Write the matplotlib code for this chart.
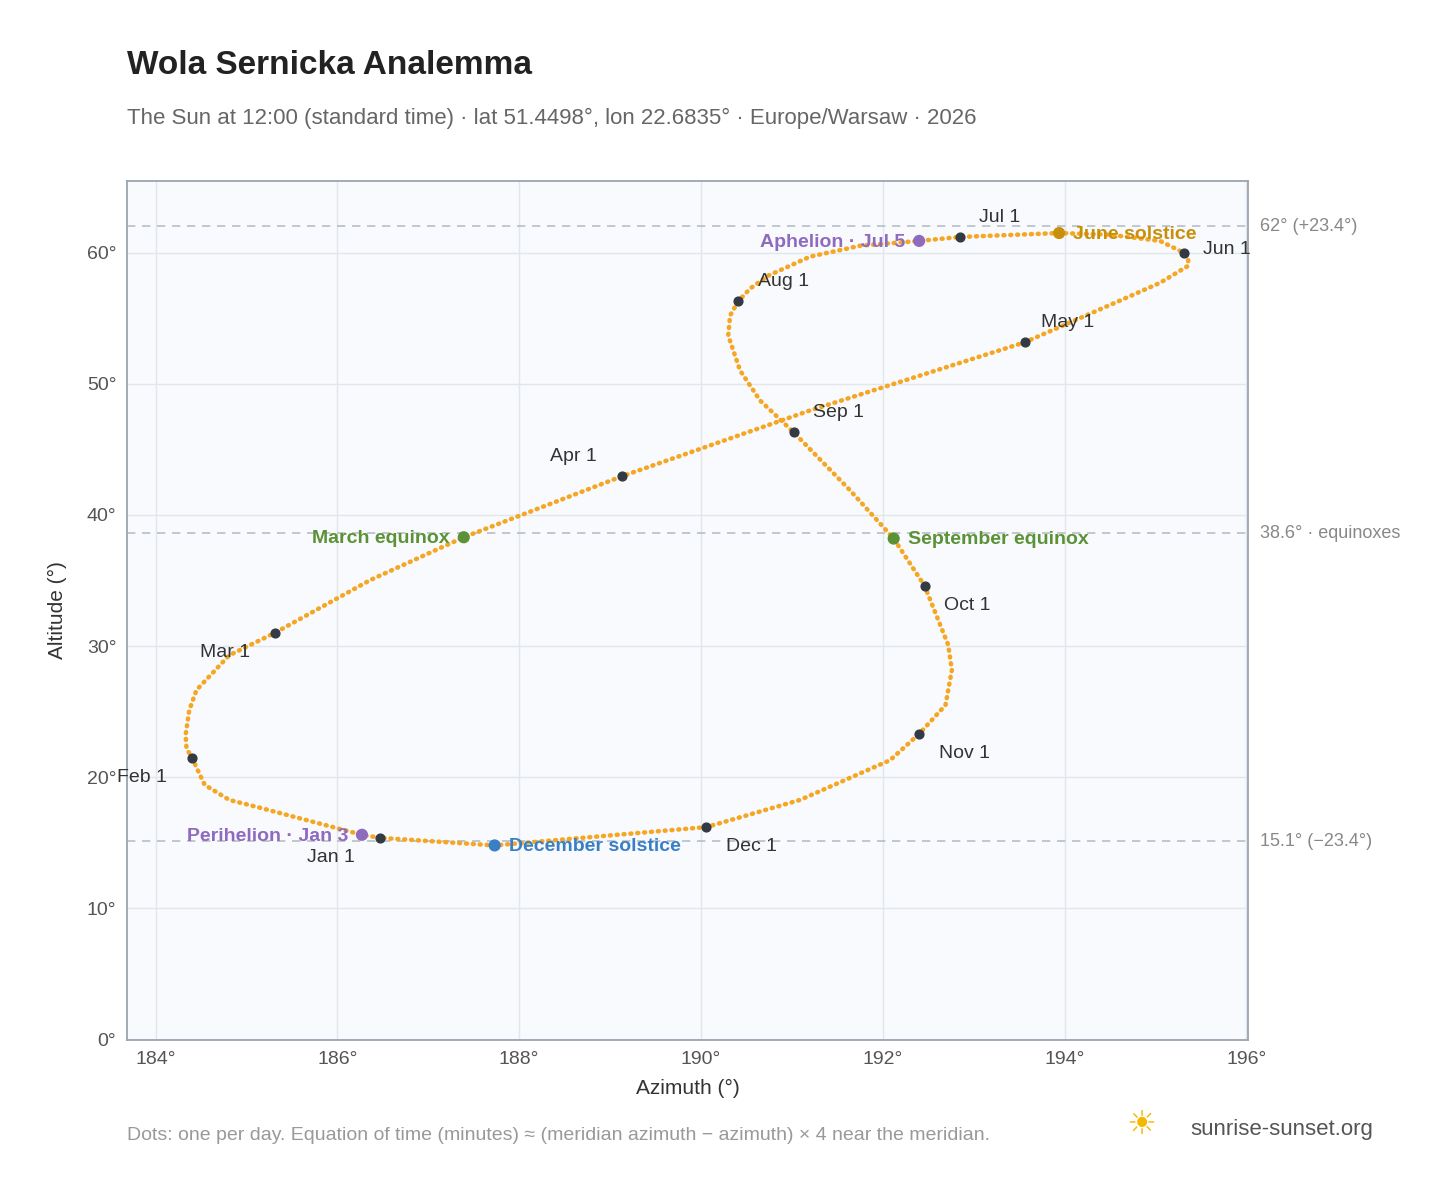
import matplotlib
matplotlib.use("Agg")
import matplotlib.pyplot as plt
plt.rcParams['font.family'] = ['Liberation Sans', 'DejaVu Sans']

# path samples (azimuth deg, altitude deg)
path_az = [186.47,186.27,185.15,184.81,184.54,184.40,184.34,184.33,184.37,184.45,184.81,185.31,186.36,187.39,189.13,191.20,193.56,194.61,195.05,195.36,195.36,195.31,195.05,194.50,193.94,192.85,192.40,191.75,191.20,190.74,190.54,190.41,190.32,190.30,190.43,190.65,191.02,191.64,192.12,192.46,192.72,192.76,192.69,192.40,192.08,191.09,190.06,187.73,186.47]
path_alt = [15.38,15.61,17.67,18.27,19.42,21.48,22.2,23.22,25.1,26.65,29.3,31.0,35.03,38.30,42.95,47.97,53.16,56.35,57.7,59.0,59.55,60.0,60.9,61.37,61.5,61.2,60.9,60.53,59.7,58.25,57.26,56.3,55.2,53.68,51.02,48.73,46.3,41.88,38.2,34.6,30.08,28.17,25.5,23.3,21.3,18.27,16.2,14.8,15.38]

months = ["Jan 1","Feb 1","Mar 1","Apr 1","May 1","Jun 1","Jul 1","Aug 1","Sep 1","Oct 1","Nov 1","Dec 1"]
month_az = [186.47,184.40,185.31,189.13,193.56,195.31,192.85,190.41,191.02,192.46,192.40,190.06]
month_alt = [15.38,21.48,31.0,42.95,53.16,60.0,61.2,56.3,46.3,34.6,23.3,16.2]
month_off = [(-18,-14),(-18,-14),(-18,-14),(-18,14),(12,14),(14,2),(14,14),(14,14),(14,14),(14,-14),(14,-14),(14,-14)]
month_ha = ["right","right","right","right","left","left","left","left","left","left","left","left"]

events = ["Perihelion · Jan 3","December solstice","March equinox","June solstice","Aphelion · Jul 5","September equinox"]
ev_az = [186.27,187.73,187.39,193.94,192.40,192.12]
ev_alt = [15.61,14.8,38.3,61.5,60.9,38.2]
ev_col = ["#8e6bbf","#3a7fc6","#5b9236","#c8900a","#8e6bbf","#5b9236"]
ev_ha = ["right","left","right","left","right","left"]

ref_alt = [62.0,38.6,15.1]
ref_lbl = ["62° (+23.4°)","38.6° · equinoxes","15.1° (−23.4°)"]

fig = plt.figure(figsize=(14.48,11.88), dpi=100)
ax = fig.add_axes([0.088,0.125,0.774,0.723])
ax.set_facecolor("#f8fafd")
ax.set_xlim(183.69,196.02)
ax.set_ylim(0,65.5)
ax.grid(color="#e3e7ed", lw=1)
ax.set_axisbelow(True)
for s in ax.spines.values():
    s.set_color("#9aa5b1"); s.set_linewidth(1.3)
ax.set_xticks(range(184,197,2))
ax.set_xticklabels([f"{v}°" for v in range(184,197,2)])
ax.set_yticks(range(0,61,10))
ax.set_yticklabels([f"{v}°" for v in range(0,61,10)])
ax.tick_params(colors="#555", labelsize=14, length=0, pad=8)
ax.set_xlabel("Azimuth (°)", fontsize=15, color="#333", labelpad=8)
ax.set_ylabel("Altitude (°)", fontsize=15, color="#333", labelpad=14)

for a, l in zip(ref_alt, ref_lbl):
    ax.axhline(a, color="#b8bec6", ls=(0,(5,4)), lw=1.2, zorder=1)
    ax.text(196.15, a, l, fontsize=13, color="#888", va="center", ha="left", clip_on=False)

ax.plot(path_az, path_alt, color="#f5a623", lw=3.3, ls=(0,(0.2,1.3)), dash_capstyle="round", zorder=2)

ax.scatter(month_az, month_alt, s=40, color="#333a44", zorder=4)
for n, x, y, o, h in zip(months, month_az, month_alt, month_off, month_ha):
    ax.annotate(n, (x, y), xytext=o, textcoords="offset points", fontsize=14, color="#333", ha=h, va="center")

ax.scatter(ev_az, ev_alt, s=60, color=ev_col, zorder=5)
for n, x, y, c, h in zip(events, ev_az, ev_alt, ev_col, ev_ha):
    ax.annotate(n, (x, y), xytext=(10 if h=="left" else -10, -1), textcoords="offset points",
                fontsize=14, color=c, ha=h, va="center", fontweight="bold")

fig.text(0.088, 0.938, "Wola Sernicka Analemma", fontsize=24, fontweight="bold", color="#222")
fig.text(0.088, 0.896, "The Sun at 12:00 (standard time) · lat 51.4498°, lon 22.6835° · Europe/Warsaw · 2026", fontsize=16, color="#666")
fig.text(0.088, 0.040, "Dots: one per day. Equation of time (minutes) ≈ (meridian azimuth − azimuth) × 4 near the meridian.", fontsize=14, color="#999")
fig.text(0.822, 0.045, "sunrise-sunset.org", fontsize=16, color="#555")
fig.text(0.778, 0.045, "☀", fontsize=24, color="#f5b800", family="DejaVu Sans")
fig.savefig("out.png", dpi=100)
